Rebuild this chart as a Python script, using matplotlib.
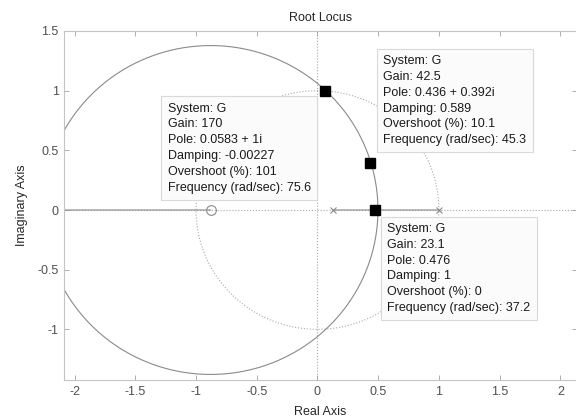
import numpy as np
import matplotlib.pyplot as plt

# open-loop poles / zero of G
poles = [0.13, 1.0]
zeros = [-0.88]

# data tips
tip_re = [0.0583, 0.436, 0.476]
tip_im = [1.0, 0.392, 0.0]
tip_gain = ["170", "42.5", "23.1"]
tip_pole = ["0.0583 + 1i", "0.436 + 0.392i", "0.476"]
tip_damping = ["-0.00227", "0.589", "1"]
tip_overshoot = ["101", "10.1", "0"]
tip_freq = ["75.6", "45.3", "37.2"]

plt.rcParams["font.family"] = ["Liberation Sans", "DejaVu Sans"]
plt.rcParams["font.size"] = 9

fig = plt.figure(figsize=(5.76, 4.19), dpi=100)
ax = fig.add_axes([64.3 / 576, 38.7 / 419, 512.7 / 576, 349.3 / 419])

locus_col = "#8a8a8a"
grid_col = "#a8a8a8"

# closed-loop roots: (z-p1)(z-p2) + K (z-z0) = 0
p1, p2 = poles
z0 = zeros[0]
K = np.concatenate([np.linspace(0, 10, 20001), np.logspace(1, 5, 2000)])
b = K - (p1 + p2)
c = p1 * p2 - K * z0
sq = np.sqrt((b ** 2 - 4 * c).astype(complex))
r1 = (-b + sq) / 2
r2 = (-b - sq) / 2

# dotted axes and unit circle
ax.axhline(0, color=grid_col, ls=":", lw=0.8, zorder=1)
ax.axvline(0, color=grid_col, ls=":", lw=0.8, zorder=1)
t = np.linspace(0, 2 * np.pi, 400)
ax.plot(np.cos(t), np.sin(t), color=grid_col, ls=":", lw=0.8, zorder=1)

ax.plot(r1.real, r1.imag, color=locus_col, lw=0.8, zorder=2)
ax.plot(r2.real, r2.imag, color=locus_col, lw=0.8, zorder=2)

ax.plot(poles, [0, 0], "x", color=locus_col, ms=4, mew=0.8, zorder=3)
ax.plot(zeros, [0], "o", color=locus_col, mfc="none", ms=7, mew=0.8, zorder=3)

ax.plot(tip_re, tip_im, "s", color="black", ms=6.5, zorder=5)

offsets = [(-157, -12), (13, 108), (12, -13)]
for i in range(3):
    txt = (
        "System: G\n"
        f"Gain: {tip_gain[i]}\n"
        f"Pole: {tip_pole[i]}\n"
        f"Damping: {tip_damping[i]}\n"
        f"Overshoot (%): {tip_overshoot[i]}\n"
        f"Frequency (rad/sec): {tip_freq[i]}"
    )
    ax.annotate(
        txt,
        xy=(tip_re[i], tip_im[i]),
        xytext=offsets[i],
        textcoords="offset pixels",
        ha="left",
        va="top",
        fontsize=9,
        color="#1a1a1a",
        linespacing=1.42,
        bbox=dict(boxstyle="square,pad=0.5", fc="#fbfbfb", ec="#d9d9d9", lw=0.8),
        zorder=6,
    )

ax.set_xlim(-2.085, 2.137)
ax.set_ylim(-1.427, 1.5)
ax.set_xticks(np.arange(-2, 2.01, 0.5))
ax.set_xticklabels(["-2", "-1.5", "-1", "-0.5", "0", "0.5", "1", "1.5", "2"])
ax.set_yticks(np.arange(-1, 1.51, 0.5))
ax.set_yticklabels(["-1", "-0.5", "0", "0.5", "1", "1.5"])
ax.tick_params(direction="in", length=3.5, width=0.6, color="#a0a0a0",
               labelcolor="#505050", labelsize=9, top=True, right=True, pad=4)
for s in ax.spines.values():
    s.set_color("#c4c4c4")
    s.set_linewidth(0.8)

ax.set_title("Root Locus", fontsize=9, color="#262626", pad=7)
ax.set_xlabel("Real Axis", fontsize=9, color="#262626", labelpad=6)
ax.set_ylabel("Imaginary Axis", fontsize=9, color="#262626", labelpad=7)

plt.savefig("out.png", dpi=100)
plt.close()
